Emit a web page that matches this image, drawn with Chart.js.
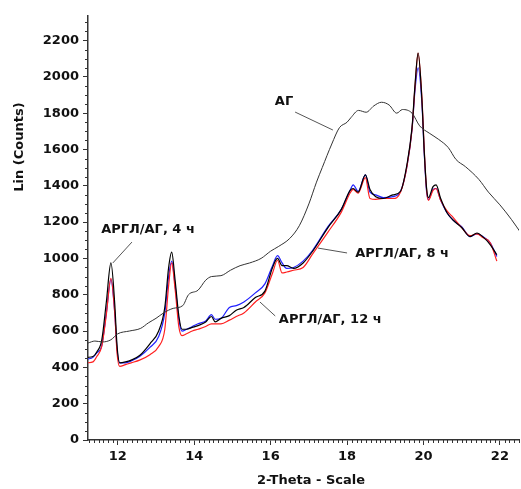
<!DOCTYPE html>
<html lang="ru">
<head>
<meta charset="UTF-8">
<title>АГ / АРГЛ/АГ</title>
<script src="https://cdn.jsdelivr.net/npm/chart.js"></script>
<style>
  html, body { margin: 0; padding: 0; background: #fff; }
  #wrap { width: 521px; height: 489px; position: relative; }
</style>
</head>
<body>
<div id="wrap"><canvas id="xrd"></canvas></div>
<script>
// АГ (исходный)
const agTheta = [11.22, 11.4, 11.6, 11.82, 12.0, 12.3, 12.6, 12.8, 13.0, 13.2, 13.45, 13.7, 13.85, 14.1, 14.3, 14.45,
  14.7, 14.95, 15.2, 15.45, 15.75, 16.0, 16.2, 16.5, 16.75, 17.0, 17.2, 17.35, 17.6, 17.8, 18.0, 18.1, 18.3, 18.5,
  18.7, 18.9, 19.1, 19.3, 19.45, 19.7, 19.9, 20.15, 20.4, 20.65, 20.85, 21.1, 21.45, 21.7, 22.0, 22.3, 22.55];
const agCounts = [534, 545, 540, 552, 585, 600, 615, 645, 670, 700, 725, 740, 800, 825, 880, 900,
  905, 935, 960, 975, 1000, 1040, 1065, 1110, 1180, 1300, 1420, 1500, 1630, 1720, 1750, 1775, 1815, 1805,
  1840, 1860, 1845, 1800, 1820, 1800, 1730, 1690, 1655, 1610, 1545, 1505, 1435, 1365, 1295, 1215, 1140];

// АРГЛ/АГ, 4 / 8 / 12 ч
const sampleTheta = [11.2, 11.35, 11.45, 11.58, 11.7, 11.82, 11.92, 11.98, 12.05, 12.2, 12.35, 12.57, 12.84, 13.07,
  13.23, 13.33, 13.41, 13.5, 13.6, 13.68, 13.8, 13.95, 14.1, 14.3, 14.45, 14.55, 14.7, 14.92, 15.1, 15.3, 15.6,
  15.85, 16.05, 16.18, 16.3, 16.42, 16.6, 16.85, 17.1, 17.5, 17.85, 18.08, 18.16, 18.29, 18.48, 18.6, 18.75,
  18.95, 19.2, 19.4, 19.57, 19.7, 19.78, 19.86, 19.96, 20.02, 20.08, 20.13, 20.25, 20.33, 20.45, 20.62, 20.78,
  21.0, 21.22, 21.4, 21.55, 21.75, 21.92];
const counts4h = [455, 460, 485, 550, 760, 975, 750, 520, 425, 430, 440, 465, 530, 600,
  730, 950, 1035, 880, 680, 610, 610, 620, 630, 650, 680, 650, 670, 685, 715, 730, 785,
  820, 950, 1000, 960, 960, 945, 975, 1040, 1170, 1270, 1375, 1385, 1365, 1460, 1380, 1340,
  1330, 1350, 1370, 1520, 1720, 1960, 2130, 1870, 1590, 1390, 1335, 1395, 1405, 1330, 1250, 1210,
  1170, 1120, 1140, 1120, 1075, 1020];
const counts8h = [445, 455, 480, 520, 700, 885, 700, 500, 425, 425, 435, 460, 510, 570,
  700, 900, 985, 850, 660, 600, 610, 625, 640, 655, 690, 665, 670, 730, 740, 760, 810,
  860, 960, 1015, 975, 945, 950, 985, 1045, 1175, 1270, 1375, 1405, 1370, 1460, 1365, 1350,
  1335, 1340, 1370, 1510, 1710, 1930, 2050, 1850, 1580, 1370, 1325, 1380, 1385, 1320, 1250, 1210,
  1175, 1120, 1135, 1120, 1085, 1010];
const counts12h = [425, 430, 460, 515, 690, 890, 700, 480, 405, 415, 425, 440, 470, 515,
  610, 850, 975, 830, 620, 575, 585, 600, 610, 625, 640, 640, 640, 660, 680, 700, 760,
  810, 920, 990, 920, 925, 935, 950, 1025, 1145, 1255, 1360, 1380, 1360, 1445, 1330, 1325,
  1330, 1330, 1365, 1510, 1710, 1950, 2130, 1880, 1600, 1380, 1320, 1375, 1385, 1320, 1260, 1225,
  1170, 1125, 1135, 1115, 1085, 985];

const xTicks = [12, 14, 16, 18, 20, 22];
const yTicks = [0, 200, 400, 600, 800, 1000, 1200, 1400, 1600, 1800, 2000, 2200];

// подписи кривых: [текст, θ, counts, линия от θ1,c1 до θ2,c2]
const curveLabels = [
  ['АГ', 16.35, 1861, 16.64, 1806, 17.63, 1707],
  ['АРГЛ/АГ, 4 ч', 12.79, 1156, 12.37, 1090, 11.87, 975],
  ['АРГЛ/АГ, 8 ч', 19.44, 1024, 17.24, 1057, 18.0, 1030],
  ['АРГЛ/АГ, 12 ч', 17.56, 661, 15.72, 760, 16.12, 683]
];

const pts = (xs, ys) => xs.map((x, i) => ({ x: x, y: ys[i] }));
const FONT = { family: 'DejaVu Sans', size: 13, weight: 'bold' };

const extras = {
  id: 'extras',
  afterDraw(chart) {
    const ctx = chart.ctx;
    const xs = chart.scales.x, ys = chart.scales.y;
    const a = chart.chartArea;
    ctx.save();
    // мелкие засечки
    ctx.strokeStyle = '#333';
    ctx.lineWidth = 1;
    ctx.beginPath();
    for (let v = 50; v <= 2335; v += 50) {
      if (v % 200 === 0) continue;
      const y = Math.round(ys.getPixelForValue(v)) + 0.5;
      ctx.moveTo(a.left - 3, y); ctx.lineTo(a.left, y);
    }
    for (let v = 11.25; v <= 22.5; v += 0.125) {
      if (Math.abs(v / 2 - Math.round(v / 2)) < 0.001) continue;
      const x = Math.round(xs.getPixelForValue(v)) + 0.5;
      ctx.moveTo(x, a.bottom); ctx.lineTo(x, a.bottom + 3);
    }
    ctx.stroke();

    // подписи и выноски
    ctx.font = 'bold 13px "DejaVu Sans"';
    ctx.fillStyle = '#111';
    ctx.textAlign = 'center';
    ctx.textBaseline = 'middle';
    curveLabels.forEach(l => {
      ctx.fillText(l[0], xs.getPixelForValue(l[1]), ys.getPixelForValue(l[2]));
      ctx.strokeStyle = '#555';
      ctx.beginPath();
      ctx.moveTo(xs.getPixelForValue(l[3]), ys.getPixelForValue(l[4]));
      ctx.lineTo(xs.getPixelForValue(l[5]), ys.getPixelForValue(l[6]));
      ctx.stroke();
    });

    // заголовки осей
    ctx.fillText('2-Theta - Scale', 311, 481);
    ctx.translate(20, 147);
    ctx.rotate(-Math.PI / 2);
    ctx.fillText('Lin (Counts)', 0, 0);
    ctx.restore();
  }
};

new Chart(document.getElementById('xrd'), {
  type: 'line',
  data: {
    datasets: [
      { label: 'АГ', data: pts(agTheta, agCounts), borderColor: '#333', borderWidth: 1 },
      { label: 'АРГЛ/АГ, 4 ч', data: pts(sampleTheta, counts4h), borderColor: '#000', borderWidth: 1.2 },
      { label: 'АРГЛ/АГ, 12 ч', data: pts(sampleTheta, counts12h), borderColor: '#ff2020', borderWidth: 1.2 },
      { label: 'АРГЛ/АГ, 8 ч', data: pts(sampleTheta, counts8h), borderColor: '#2020ff', borderWidth: 1.2 }
    ]
  },
  options: {
    responsive: true,
    maintainAspectRatio: false,
    animation: false,
    layout: { padding: { top: 16, right: 2, left: 0, bottom: 0 } },
    elements: {
      point: { radius: 0 },
      line: { cubicInterpolationMode: 'monotone' }
    },
    plugins: { legend: { display: false }, tooltip: { enabled: false } },
    scales: {
      x: {
        type: 'linear',
        min: 11.22,
        max: 22.5,
        afterBuildTicks: s => { s.ticks = xTicks.map(v => ({ value: v })); },
        afterFit: s => { s.height = 49; },
        ticks: { font: FONT, color: '#111', padding: 4, maxRotation: 0, autoSkip: false, callback: v => String(v) },
        grid: { drawOnChartArea: false, tickLength: 5, color: '#333' },
        border: { color: '#333', width: 1.5 }
      },
      y: {
        min: 0,
        max: 2335,
        afterBuildTicks: s => { s.ticks = yTicks.map(v => ({ value: v })); },
        afterFit: s => { s.width = 88; },
        ticks: { font: FONT, color: '#111', padding: 4, callback: v => String(v) },
        grid: { drawOnChartArea: false, tickLength: 5, color: '#333' },
        border: { color: '#333', width: 1.5 }
      }
    }
  },
  plugins: [extras]
});
</script>
</body>
</html>
